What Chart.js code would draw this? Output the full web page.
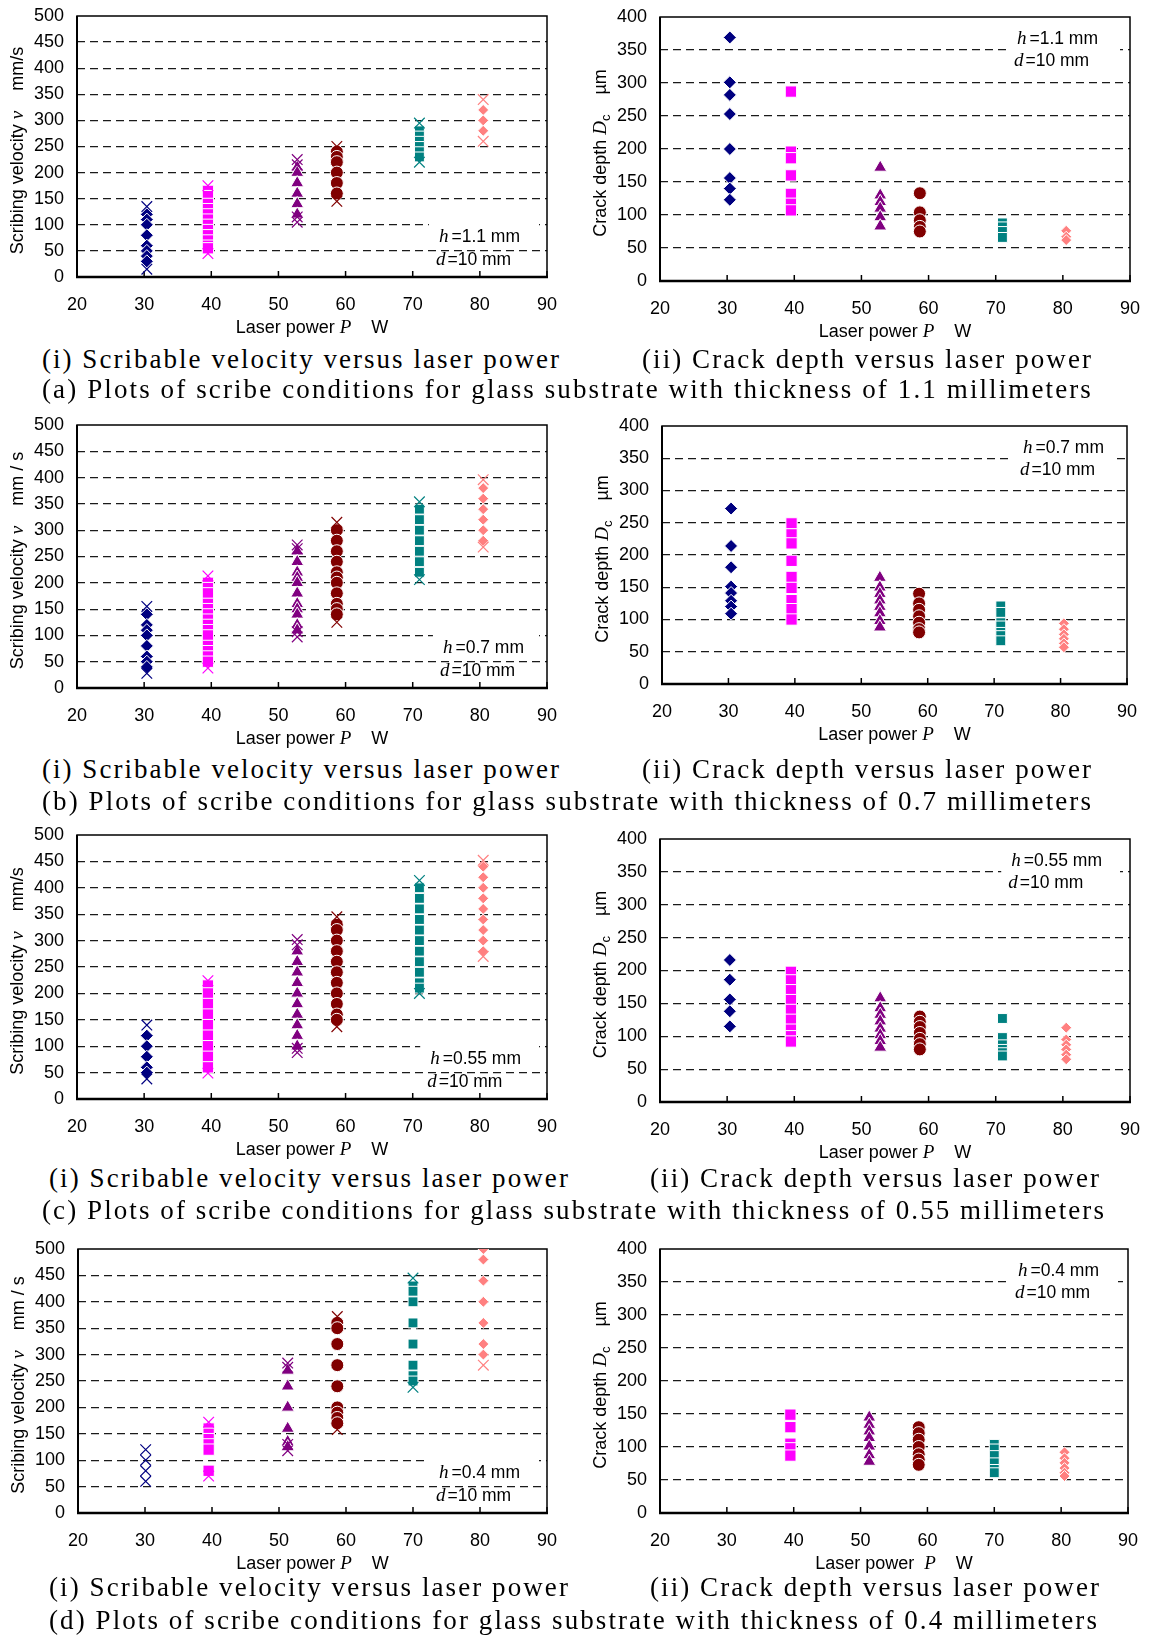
<!DOCTYPE html>
<html>
<head>
<meta charset="utf-8">
<title>Scribe conditions vs laser power</title>
<script src="https://cdn.jsdelivr.net/npm/chart.js@4.4.1/dist/chart.umd.min.js"></script>
<style>
  body { margin: 0; background: #fff; }
  #page { position: relative; width: 1149px; height: 1637px; overflow: hidden; background: #fff; }
  #page canvas { position: absolute; }
  .cap { position: absolute; font-family: "Liberation Serif", "Times New Roman", serif; font-size: 27px;
         line-height: 27px; white-space: pre; color: #000; }
</style>
</head>
<body>
<div id="page"></div>
<script>
const SANS = '"Liberation Sans", Arial, sans-serif';
const SERIF = '"Liberation Serif", "Times New Roman", serif';

// laser power of each group, W
const powerABC = [30.4, 39.5, 52.8, 58.7, 71.0, 80.5];
const powerD = [30.1, 39.5, 51.3, 58.7, 70.0, 80.5];

// h = 1.1 mm
const velA = [
  [120, 110, 100, 80, 60, 50, 40, 30],
  [165, 155, 140, 130, 120, 110, 100, 90, 80, 70, 60, 55],
  [210, 200, 180, 160, 140, 120],
  [240, 230, 220, 200, 180, 160],
  [280, 270, 260, 250, 240, 230],
  [320, 300, 280]
];
const velLimA = [[135, 15], [175, 45], [225, 215, 115, 105], [250, 145], [295, 220], [340, 260]];
const depthA = [
  [369, 301, 282, 253, 200, 156, 140, 123],
  [287, 196, 186, 160, 132, 117, 107],
  [172, 130, 120, 110, 97, 83],
  [133, 104, 92, 82, 75],
  [88, 82, 75, 66],
  [76, 67, 62]
];

// h = 0.7 mm
const velB = [
  [140, 120, 110, 100, 80, 60, 50, 40],
  [200, 190, 180, 160, 150, 140, 130, 120, 110, 100, 80, 70, 60, 50],
  [260, 240, 220, 210, 200, 180, 160, 150, 140, 120, 110],
  [300, 280, 260, 240, 220, 210, 200, 180, 160, 150, 140],
  [340, 320, 300, 280, 260, 240, 220],
  [380, 360, 340, 320, 300, 280]
];
const velLimB = [[155, 28], [213, 38], [272, 265, 107, 97], [315, 125], [354, 206], [396, 268]];
const depthB = [
  [272, 214, 181, 151, 141, 129, 120, 109],
  [249, 232, 218, 191, 166, 149, 130, 116, 100],
  [165, 150, 140, 130, 120, 110, 98, 88],
  [140, 125, 115, 105, 95, 85, 80],
  [121, 111, 95, 90, 80, 75, 67],
  [94, 85, 77, 70, 63, 57]
];

// h = 0.55 mm
const velC = [
  [120, 100, 80, 60, 50],
  [215, 200, 180, 160, 140, 120, 100, 80, 60],
  [280, 260, 240, 220, 200, 180, 160, 140, 120, 100],
  [330, 320, 300, 280, 260, 240, 220, 200, 180, 160, 150],
  [400, 380, 360, 340, 320, 300, 280, 260, 240, 220, 210],
  [440, 420, 400, 380, 360, 340, 320, 300, 280]
];
const velLimC = [[140, 38], [224, 49], [302, 292, 96, 88], [345, 137], [414, 200], [452, 270]];
const depthC = [
  [216, 186, 156, 138, 115],
  [198, 185, 170, 155, 140, 125, 110, 100, 92],
  [158, 143, 133, 123, 112, 102, 93, 83],
  [130, 122, 114, 105, 96, 88, 80],
  [127, 98, 87, 80, 75, 70],
  [113, 95, 87, 80, 72, 65]
];

// h = 0.4 mm
const velD = [
  [],
  [160, 150, 140, 130, 120, 80],
  [270, 240, 200, 160, 135, 125],
  [360, 350, 320, 280, 240, 200, 190, 180, 170],
  [430, 420, 400, 360, 320, 280, 260, 250],
  [500, 480, 440, 400, 360, 320, 300]
];
const velLimD = [[120, 100, 80, 60], [172, 70], [284, 276, 130, 118], [372, 158], [445, 238], [280]];
const depthD = [
  [],
  [149, 130, 105, 98, 87],
  [145, 134, 124, 114, 101, 88, 78],
  [130, 121, 111, 100, 89, 81, 73],
  [104, 97, 87, 76, 66, 61],
  [92, 83, 76, 68, 61, 56]
];

const xTicks = [20, 90, 10];
const velTicks = [0, 500, 50];
const depthTicks = [0, 400, 50];

// marker look of each group
const groupColors = ['#000080', '#ff00ff', '#800080', '#800000', '#008080', '#ff8080'];
const groupShapes = ['rectRot', 'rect', 'triangle', 'circle', 'rect', 'rectRot'];
const groupRadius = [6.5, 8, 7.5, 6.5, 7, 5.5];

const page = document.getElementById('page');

function runsWidth(ctx, runs)
{
  let w = 0;
  runs.forEach(r => { ctx.font = r.font; w += ctx.measureText(r.text).width + (r.gap || 0); });
  return w;
}

function drawRuns(ctx, runs, x, y, align)
{
  const w = runsWidth(ctx, runs);
  let cx = align === 'center' ? x - w / 2 : (align === 'right' ? x - w : x);
  ctx.textAlign = 'left';
  ctx.textBaseline = 'middle';
  ctx.fillStyle = '#000';
  runs.forEach(r => {
    ctx.font = r.font;
    ctx.fillText(r.text, cx, y + (r.dy || 0));
    cx += ctx.measureText(r.text).width + (r.gap || 0);
  });
}

const F_SANS = '18px ' + SANS;
const F_ITAL = 'italic 19px ' + SERIF;
const F_NOTE = '17.5px ' + SANS;
const F_NOTE_I = 'italic 19px ' + SERIF;
const TOP_PAD = 26;
const BOTTOM_H = 64;

function MakePanel(p)
{
  const isVel = p.kind === 'vel';
  const yt = isVel ? velTicks : depthTicks;
  const canvasLeft = p.side === 0 ? 0 : 575;
  const canvasW = p.side === 0 ? 580 : 590;
  const canvasTop = p.T - TOP_PAD;
  const canvasH = p.B - canvasTop + BOTTOM_H;

  const cv = document.createElement('canvas');
  cv.width = canvasW;
  cv.height = canvasH;
  cv.style.left = canvasLeft + 'px';
  cv.style.top = canvasTop + 'px';
  page.appendChild(cv);

  const datasets = [];
  p.pts.forEach((vals, g) => {
    if (p.lim && p.lim[g].length) {
      datasets.push({
        data: p.lim[g].map(v => ({x: p.power[g], y: v})),
        pointStyle: 'crossRot', pointRadius: 7.5,
        borderColor: groupColors[g], backgroundColor: groupColors[g], borderWidth: 1.2
      });
    }
    datasets.push({
      data: vals.map(v => ({x: p.power[g], y: v})),
      pointStyle: groupShapes[g], pointRadius: groupRadius[g],
      backgroundColor: groupColors[g], borderColor: '#fff', borderWidth: 1
    });
  });

  const yTitle = isVel
    ? [{text: 'Scribing velocity ', font: F_SANS}, {text: 'v', font: F_ITAL}, {text: p.unit, font: F_SANS}]
    : [{text: 'Crack depth ', font: F_SANS}, {text: 'D', font: F_ITAL}, {text: 'c', font: '13px ' + SANS, dy: 5},
       {text: '    \u00b5m', font: F_SANS}];
  const xTitle = [{text: 'Laser power ' + p.xgap, font: F_SANS}, {text: 'P', font: F_ITAL}, {text: '    W', font: F_SANS}];
  const note1 = [{text: 'h', font: F_NOTE_I, gap: 3}, {text: '=' + p.h + ' mm', font: F_NOTE}];
  const note2 = [{text: 'd', font: F_NOTE_I, gap: 2}, {text: '=10 mm', font: F_NOTE}];

  const frame = {
    id: 'frame',
    beforeDatasetsDraw(chart) {
      const {ctx, chartArea: a, scales} = chart;
      ctx.save();

      // text box with h and d
      const w = Math.max(runsWidth(ctx, note1), runsWidth(ctx, note2));
      const tx = a.right - p.noteRight - w;
      const y1 = isVel ? a.bottom - 40 : a.top + 22;
      const y2 = isVel ? a.bottom - 17 : y1 + 22;
      ctx.fillStyle = '#fff';
      if (isVel) ctx.fillRect(tx - 10, a.bottom - 58, a.right - 8 - (tx - 10), 27);
      else ctx.fillRect(tx - 10, a.top + 8, a.right - 10 - (tx - 10), 48);
      drawRuns(ctx, note1, tx, y1, 'left');
      drawRuns(ctx, note2, tx - 3, y2, 'left');

      // plot box and axes
      ctx.strokeStyle = '#000';
      ctx.lineWidth = 1.5;
      ctx.strokeRect(a.left, a.top, a.right - a.left, a.bottom - a.top);
      ctx.lineWidth = 2;
      ctx.beginPath();
      ctx.moveTo(a.left, a.top);
      ctx.lineTo(a.left, a.bottom);
      ctx.stroke();
      ctx.lineWidth = 2.5;
      ctx.beginPath();
      ctx.moveTo(a.left - 1, a.bottom);
      ctx.lineTo(a.right + 1, a.bottom);
      ctx.stroke();

      // inward tick marks on the power axis
      ctx.lineWidth = 1.5;
      scales.x.ticks.forEach(t => {
        const x = scales.x.getPixelForValue(t.value);
        ctx.beginPath();
        ctx.moveTo(x, a.bottom);
        ctx.lineTo(x, a.bottom - 6);
        ctx.stroke();
      });
      ctx.restore();
    },
    afterDraw(chart) {
      const {ctx, chartArea: a} = chart;
      ctx.save();
      drawRuns(ctx, xTitle, (a.left + a.right) / 2, a.bottom + 51, 'center');
      ctx.translate(a.left - 59, (a.top + a.bottom) / 2 + 4);
      ctx.rotate(-Math.PI / 2);
      drawRuns(ctx, yTitle, 0, 0, 'center');
      ctx.restore();
    }
  };

  new Chart(cv.getContext('2d'), {
    type: 'scatter',
    data: {datasets: datasets},
    options: {
      responsive: false,
      animation: false,
      events: [],
      layout: {padding: {top: TOP_PAD, left: 0, bottom: 0, right: canvasW - (p.R - canvasLeft)}},
      plugins: {legend: {display: false}, tooltip: {enabled: false}},
      scales: {
        x: {
          type: 'linear', position: 'bottom', min: xTicks[0], max: xTicks[1],
          ticks: {stepSize: xTicks[2], color: '#000', font: {family: SANS, size: 18}, padding: 17, maxRotation: 0},
          grid: {display: false, drawTicks: false},
          border: {display: false},
          afterFit: s => { s.height = BOTTOM_H; }
        },
        y: {
          type: 'linear', min: yt[0], max: yt[1],
          ticks: {stepSize: yt[2], color: '#000', font: {family: SANS, size: 18}, padding: 13},
          grid: {
            color: c => (c.tick && (c.tick.value === yt[0] || c.tick.value === yt[1])) ? 'rgba(0,0,0,0)' : '#1a1a1a',
            lineWidth: 1.2, drawTicks: false
          },
          border: {display: false, dash: [8, 5]},
          afterFit: s => { s.width = p.L - canvasLeft; }
        }
      }
    },
    plugins: [frame]
  });
}

const panels = [
  {kind: 'vel', side: 0, power: powerABC, pts: velA, lim: velLimA, h: '1.1', unit: '    mm/s', xgap: '', L: 77, R: 547, T: 16, B: 277, noteRight: 27},
  {kind: 'depth', side: 1, power: powerABC, pts: depthA, h: '1.1', xgap: '', L: 660, R: 1130, T: 17, B: 281, noteRight: 32},
  {kind: 'vel', side: 0, power: powerABC, pts: velB, lim: velLimB, h: '0.7', unit: '    mm / s', xgap: '', L: 77, R: 547, T: 425, B: 688, noteRight: 23},
  {kind: 'depth', side: 1, power: powerABC, pts: depthB, h: '0.7', xgap: '', L: 662, R: 1127, T: 426, B: 684, noteRight: 23},
  {kind: 'vel', side: 0, power: powerABC, pts: velC, lim: velLimC, h: '0.55', unit: '    mm/s', xgap: '', L: 77, R: 547, T: 835, B: 1099, noteRight: 26},
  {kind: 'depth', side: 1, power: powerABC, pts: depthC, h: '0.55', xgap: '', L: 660, R: 1130, T: 839, B: 1102, noteRight: 28},
  {kind: 'vel', side: 0, power: powerD, pts: velD, lim: velLimD, h: '0.4', unit: '    mm / s', xgap: '', L: 78, R: 547, T: 1249, B: 1513, noteRight: 27},
  {kind: 'depth', side: 1, power: powerD, pts: depthD, h: '0.4', xgap: ' ', L: 660, R: 1128, T: 1249, B: 1513, noteRight: 29}
];
panels.forEach(MakePanel);

// captions under each row, stretched to their line length
const captions = [
  ['(i) Scribable velocity versus laser power', 42, 561, 360],
  ['(ii) Crack depth versus laser power', 642, 1093, 360],
  ['(a) Plots of scribe conditions for glass substrate with thickness of 1.1 millimeters', 42, 1093, 390],
  ['(i) Scribable velocity versus laser power', 42, 561, 770],
  ['(ii) Crack depth versus laser power', 642, 1093, 770],
  ['(b) Plots of scribe conditions for glass substrate with thickness of 0.7 millimeters', 42, 1093, 802],
  ['(i) Scribable velocity versus laser power', 49, 570, 1179],
  ['(ii) Crack depth versus laser power', 650, 1101, 1179],
  ['(c) Plots of scribe conditions for glass substrate with thickness of 0.55 millimeters', 42, 1106, 1211],
  ['(i) Scribable velocity versus laser power', 49, 570, 1588],
  ['(ii) Crack depth versus laser power', 650, 1101, 1588],
  ['(d) Plots of scribe conditions for glass substrate with thickness of 0.4 millimeters', 49, 1099, 1621]
];

captions.forEach(c => {
  const el = document.createElement('div');
  el.className = 'cap';
  el.textContent = c[0];
  el.style.left = c[1] + 'px';
  el.style.top = (c[3] - 14) + 'px';
  page.appendChild(el);
  const w0 = el.getBoundingClientRect().width;
  const n = c[0].length;
  const target = c[2] - c[1];
  if (w0 < target) {
    el.style.letterSpacing = ((target - w0) / n) + 'px';
  } else {
    el.style.transformOrigin = '0 0';
    el.style.transform = 'scaleX(' + (target / w0) + ')';
  }
});
</script>
</body>
</html>
